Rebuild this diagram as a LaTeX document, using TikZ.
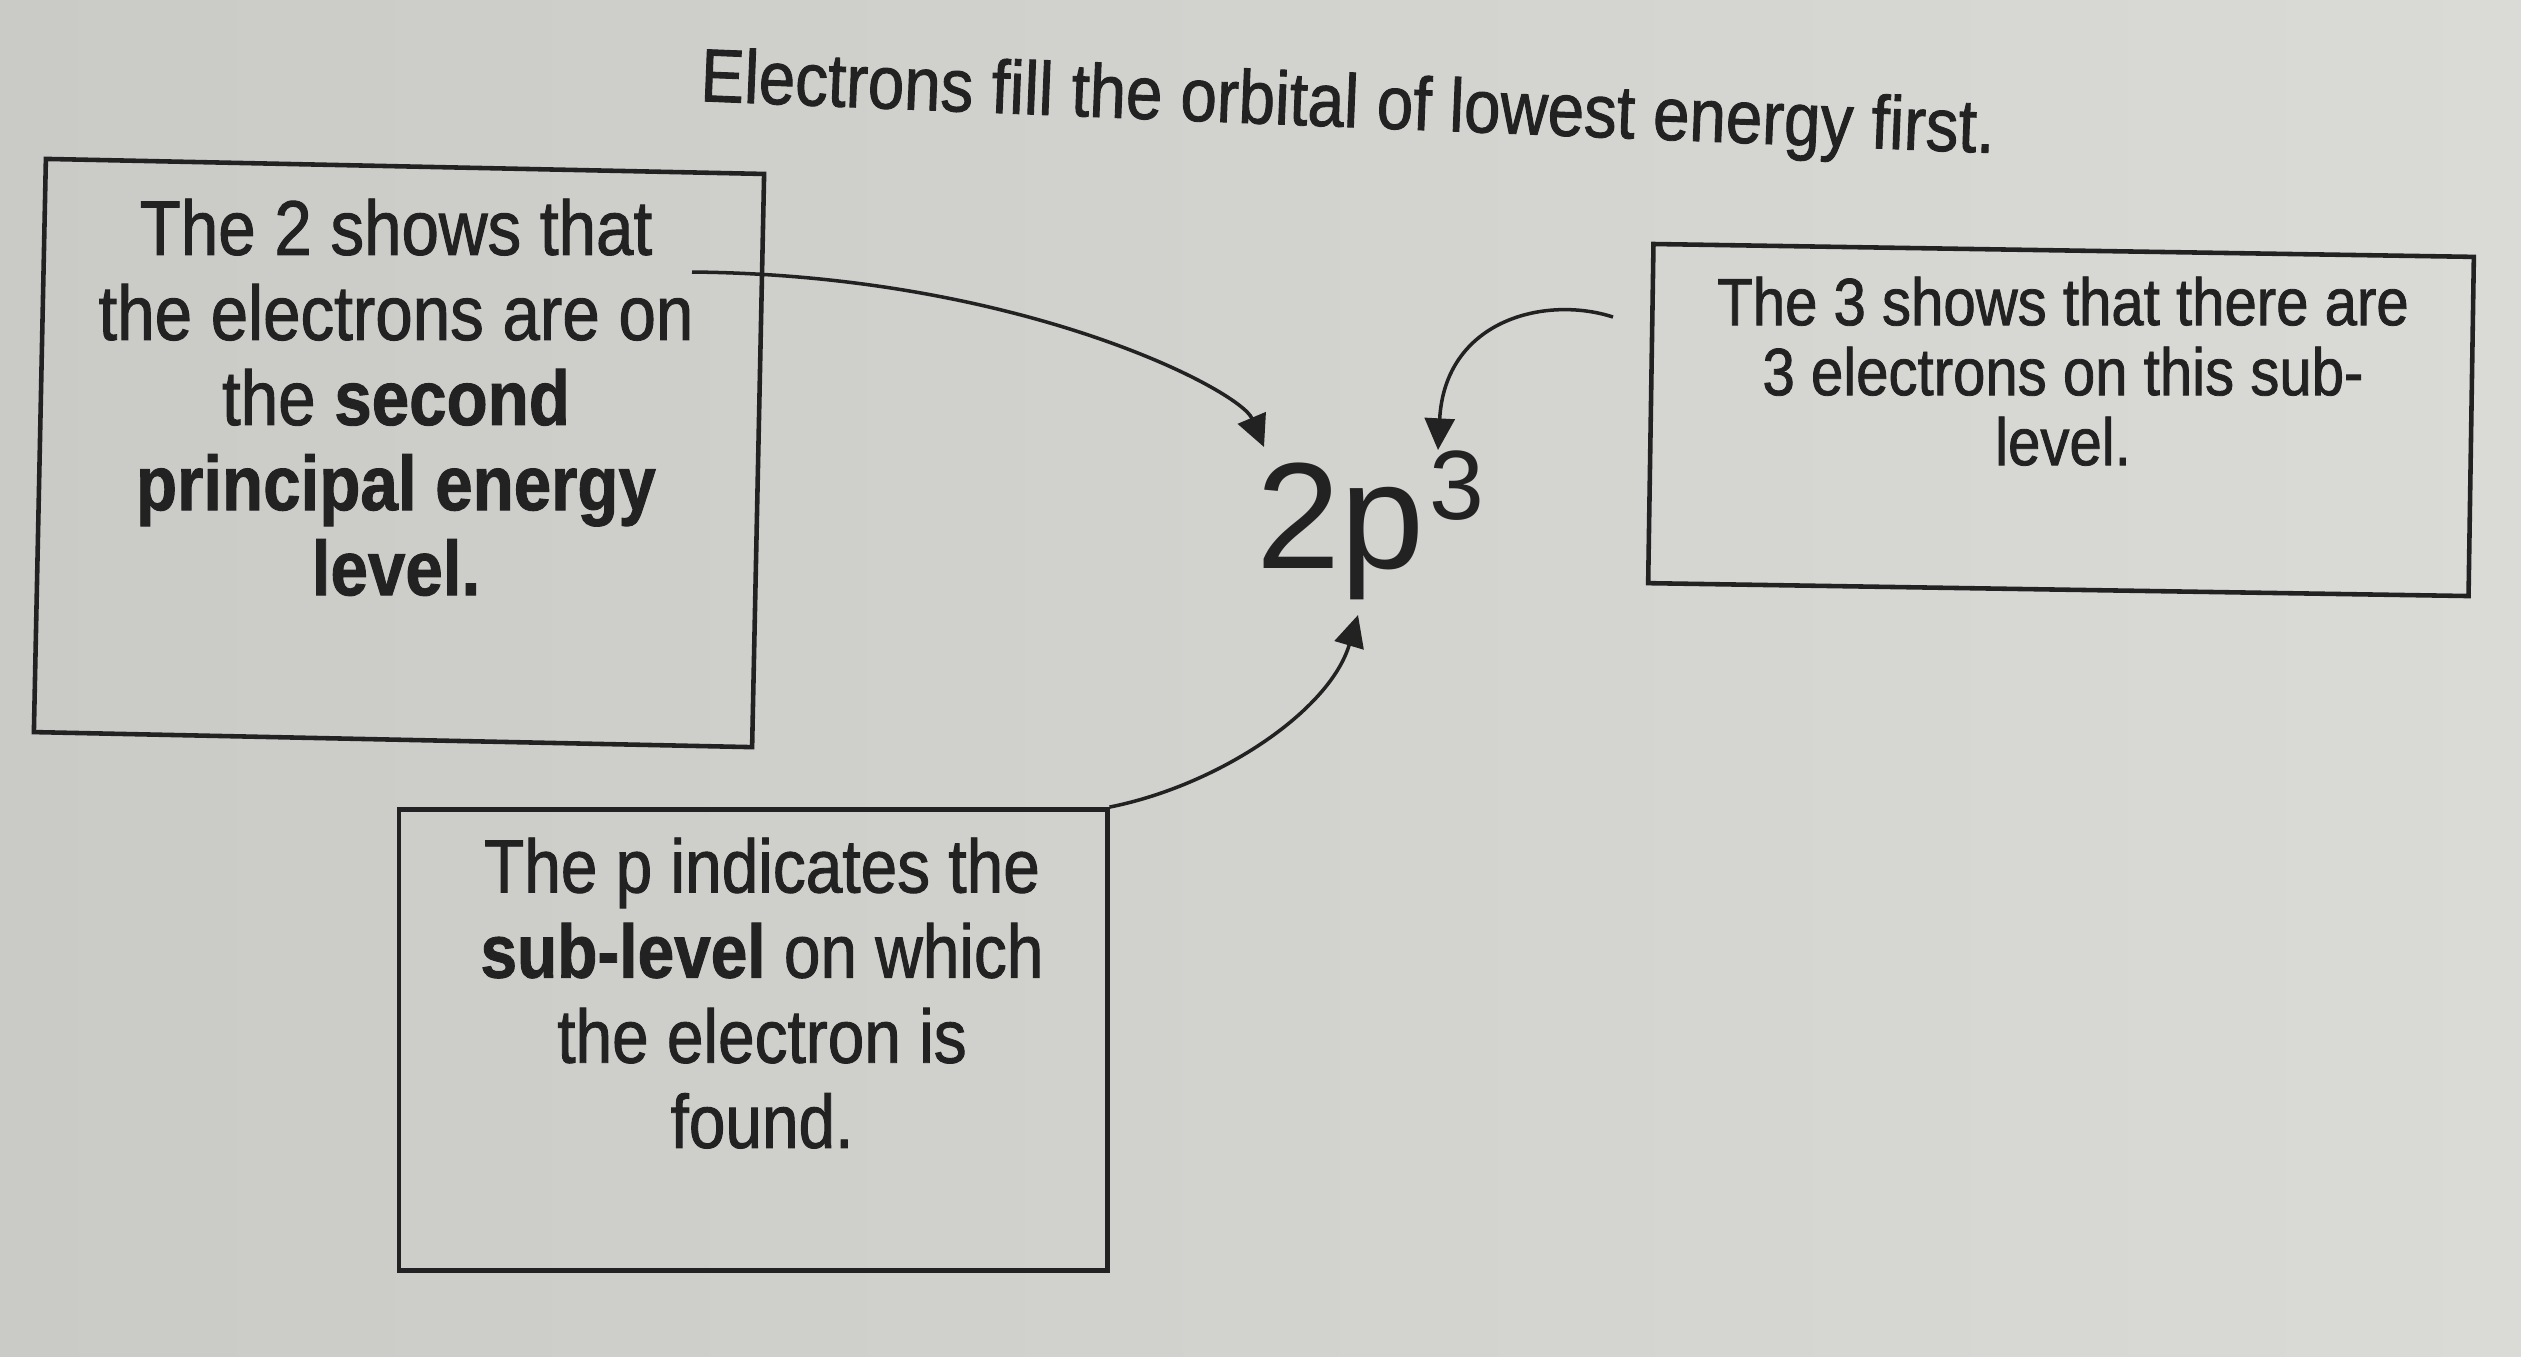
\documentclass[tikz,border=0pt]{standalone}
\usepackage{fontspec}
\setmainfont[FakeStretch=0.87, FakeBold=1.2]{Liberation Sans}
\newfontfamily\plainsans{Liberation Sans}
\usetikzlibrary{arrows.meta}
\definecolor{ink}{RGB}{34,34,34}
\definecolor{bgL}{RGB}{202,202,199}
\definecolor{bgM}{RGB}{212,212,209}
\definecolor{bgR}{RGB}{218,218,215}
\begin{document}
\begin{tikzpicture}[x=0.01cm,y=-0.01cm,
  box/.style={draw=ink, line width=1.3pt, rectangle, inner sep=0pt},
  lbl/.style={text=ink, align=center, inner sep=0pt, anchor=north},
  conn/.style={draw=ink, line width=1pt, -{Triangle[length=9pt,width=8.5pt]}}]
\shade[left color=bgL, middle color=bgM, right color=bgR] (0,0) rectangle (2521,1356);
\useasboundingbox (0,0) rectangle (2521,1356);

\node[text=ink, inner sep=0pt, anchor=base, rotate=-2.3,
      font=\fontsize{21.4}{24}\selectfont] (title) at (1347,127)
      {Electrons fill the orbital of lowest energy first.};

\node[box, minimum width=7.18cm, minimum height=5.73cm, rotate=-1.2] (lbox) at (399,453) {};
\node[lbl, font=\fontsize{22}{24.2}\selectfont] (ltext) at (396,198)
  {The 2 shows that\\the electrons are on\\the \textbf{second}\\\textbf{principal energy}\\\textbf{level.}};

\node[box, minimum width=8.2cm, minimum height=3.39cm, rotate=-0.9] (rbox) at (2061,420) {};
\node[lbl, font=\fontsize{19}{19.9}\selectfont] (rtext) at (2063,276)
  {The 3 shows that there are\\3 electrons on this sub-\\level.};

\node[box, minimum width=7.08cm, minimum height=4.61cm] (pbox) at (753,1040) {};
\node[lbl, font=\fontsize{21.5}{24.2}\selectfont] (ptext) at (762,837)
  {The p indicates the\\\textbf{sub-level} on which\\the electron is\\found.};

\node[text=ink, inner sep=0pt, anchor=base west,
      font=\plainsans\fontsize{43}{43}\selectfont] (orb) at (1256,568)
  {2p\kern1.4pt\raisebox{13.9pt}{\fontsize{28}{28}\selectfont 3}};

\coordinate (s1) at (692,272);
\coordinate (e1) at (1264,447);
\coordinate (s2) at (1613,317);
\coordinate (e2) at (1438,450);
\coordinate (e3) at (1358,615);

\draw[conn] (s1) .. controls (1020,275) and (1240,390) .. (e1);
\draw[conn] (s2) .. controls (1545,295) and (1445,320) .. (e2);
\draw[conn] (pbox.north east) .. controls (1220,785) and (1330,710) .. (e3);
\end{tikzpicture}
\end{document}
